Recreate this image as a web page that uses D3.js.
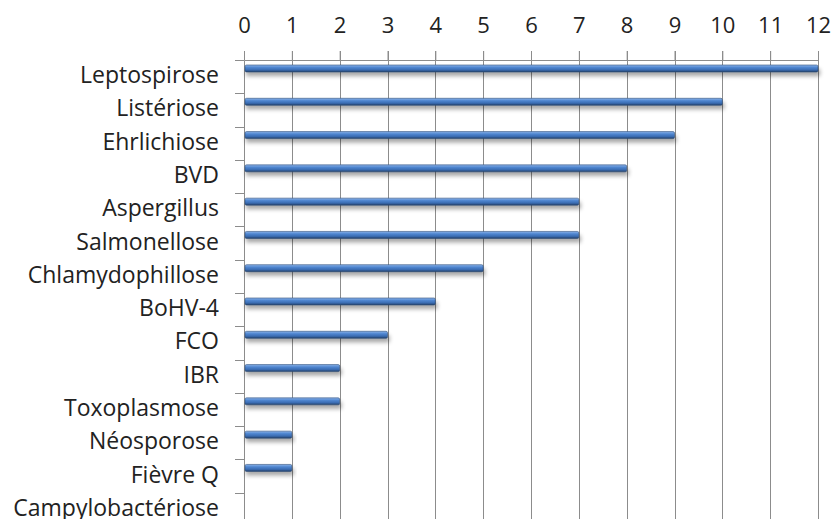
<!DOCTYPE html>
<html lang="fr">
<head>
<meta charset="UTF-8">
<title>Maladies</title>
<script src="https://cdn.jsdelivr.net/npm/d3@7"></script>
<style>
    body { margin: 0; background: #fff; }
    text { font-family: "Open Sans", "Noto Sans", sans-serif; fill: #222; }
</style>
</head>
<body>
<svg id="chart" width="834" height="519"></svg>
<script>
    var categories = ["Leptospirose", "Listériose", "Ehrlichiose", "BVD", "Aspergillus", "Salmonellose",
        "Chlamydophillose", "BoHV-4", "FCO", "IBR", "Toxoplasmose", "Néosporose", "Fièvre Q", "Campylobactériose"];
    var values = [12, 10, 9, 8, 7, 7, 5, 4, 3, 2, 2, 1, 1, 0];
    var xTicks = [0, 1, 2, 3, 4, 5, 6, 7, 8, 9, 10, 11, 12];

    var svg = d3.select("#chart");
    var mLeft = 244, mRight = 818, mTop = 60, mBottom = 526;

    var x = d3.scaleLinear().domain([0, 12]).range([mLeft, mRight]);
    var y = d3.scaleBand().domain(categories).range([mTop, mBottom]);

    var defs = svg.append("defs");
    var grad = defs.append("linearGradient").attr("id", "barGrad")
        .attr("x1", 0).attr("y1", 0).attr("x2", 0).attr("y2", 1);
    grad.append("stop").attr("offset", "0%").attr("stop-color", "#8db4ea");
    grad.append("stop").attr("offset", "35%").attr("stop-color", "#4f86d0");
    grad.append("stop").attr("offset", "70%").attr("stop-color", "#3a6cb2");
    grad.append("stop").attr("offset", "100%").attr("stop-color", "#233f66");
    var blur = defs.append("filter").attr("id", "shadow")
        .attr("x", "-5%").attr("y", "-50%").attr("width", "110%").attr("height", "300%");
    blur.append("feGaussianBlur").attr("stdDeviation", 2);

    // gridlines
    svg.append("g").selectAll("line").data(xTicks.slice(1)).join("line")
        .attr("x1", function (d) { return Math.round(x(d)) + 0.5; })
        .attr("x2", function (d) { return Math.round(x(d)) + 0.5; })
        .attr("y1", mTop - 9).attr("y2", 519)
        .attr("stroke", "#8c8c8c").attr("stroke-width", 1);

    // top axis
    var xAxis = svg.append("g").attr("transform", "translate(0," + mTop + ")")
        .call(d3.axisTop(x).tickValues(xTicks).tickSize(9).tickPadding(18));
    xAxis.select(".domain").attr("stroke", "#8c8c8c");
    xAxis.selectAll(".tick line").attr("stroke", "#8c8c8c");
    xAxis.selectAll("text").style("font-size", "22px").attr("fill", "#222");

    // left axis
    var yAxis = svg.append("g").attr("transform", "translate(" + mLeft + ",0)")
        .call(d3.axisLeft(y).tickSize(0).tickPadding(25));
    yAxis.select(".domain").attr("stroke", "#8c8c8c");
    yAxis.selectAll("text").style("font-size", "23px").attr("fill", "#222").attr("dy", "0.28em");
    svg.append("g").selectAll("line").data(categories).join("line")
        .attr("x1", mLeft - 9).attr("x2", mLeft)
        .attr("y1", function (d) { return Math.round(y(d)) + 0.5; })
        .attr("y2", function (d) { return Math.round(y(d)) + 0.5; })
        .attr("stroke", "#8c8c8c");

    var bars = categories.map(function (c, i) { return {cat: c, val: values[i]}; })
        .filter(function (d) { return d.val > 0; });

    // shadows
    svg.append("g").selectAll("rect").data(bars).join("rect")
        .attr("x", x(0) + 2)
        .attr("y", function (d) { return y(d.cat) + 9; })
        .attr("width", function (d) { return x(d.val) - x(0); })
        .attr("height", 7)
        .attr("fill", "#000").attr("opacity", 0.35)
        .attr("filter", "url(#shadow)");

    // bars
    svg.append("g").selectAll("rect").data(bars).join("rect")
        .attr("x", x(0) + 1)
        .attr("y", function (d) { return y(d.cat) + 5; })
        .attr("width", function (d) { return x(d.val) - x(0) - 1; })
        .attr("height", 7)
        .attr("rx", 1.5)
        .attr("fill", "url(#barGrad)")
        .attr("stroke", "#2c4d7a").attr("stroke-width", 0.6);
</script>
</body>
</html>
